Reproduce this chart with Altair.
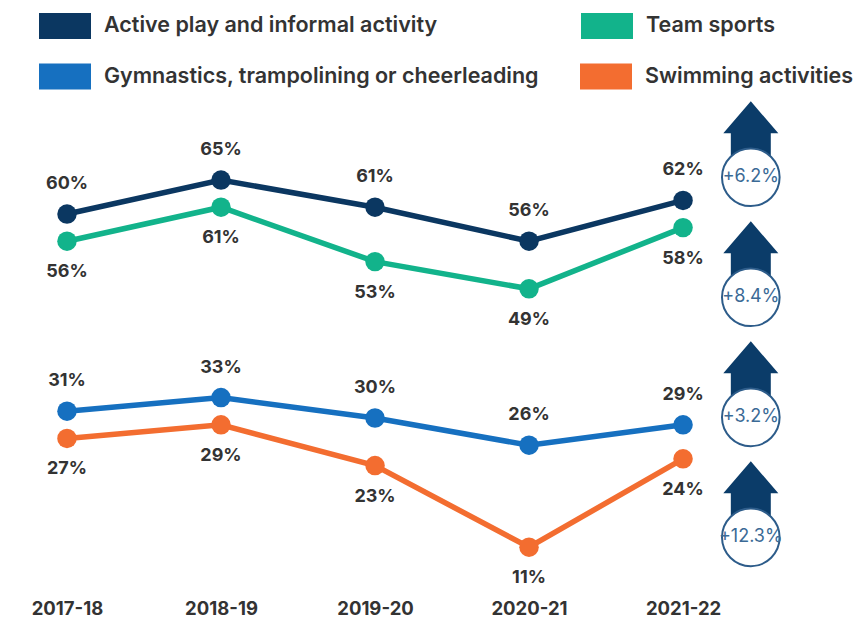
import json
import altair as alt
import pandas as pd

# ---- data ----
years = ["2017-18", "2018-19", "2019-20", "2020-21", "2021-22"]
series = [
    "Active play and informal activity",
    "Team sports",
    "Gymnastics, trampolining or cheerleading",
    "Swimming activities",
]
active = [60, 65, 61, 56, 62]
team = [56, 61, 53, 49, 58]
gym = [31, 33, 30, 26, 29]
swim = [27, 29, 23, 11, 24]
changes = ["+6.2%", "+8.4%", "+3.2%", "+12.3%"]

# ---- styling ----
colors = ["#0b3761", "#12b38b", "#1670c0", "#f36d30"]
above = [series[0], series[2]]   # series whose labels sit above the points
FONT = "Inter"
TEXT = "#333333"
NAVY = "#0b3c69"

rows = []
for name, vals in zip(series, [active, team, gym, swim]):
    for i, (yr, v) in enumerate(zip(years, vals)):
        rows.append({"series": name, "year": yr, "idx": i, "value": v,
                     "label": f"{v}%", "above": name in above})
df = pd.DataFrame(rows)

# badges sit to the right of the last year, evenly stacked
badge_x = len(years) - 1 + 0.44
badges = pd.DataFrame({
    "change": changes,
    "bx": [badge_x] * len(changes),
    "by": [65.4 - k * 17.65 for k in range(len(changes))],
})

x_scale = alt.Scale(domain=[-0.383, 5.149], nice=False, zero=False)
y_scale = alt.Scale(domain=[5, 90.3], nice=False, zero=False)

x_axis = alt.Axis(
    values=list(range(len(years))),
    labelExpr=json.dumps(years) + "[datum.value]",
    title=None, grid=False, ticks=False, tickSize=0, domain=False,
    labelFont=FONT, labelFontSize=18.5, labelFontWeight=700,
    labelColor=TEXT, labelPadding=20, labelBaseline="middle",
)


def legend_row(y, col_pad):
    return alt.Legend(
        orient="none", direction="horizontal", columns=0,
        legendX=18, legendY=y, title=None, padding=0,
        symbolType="stroke", symbolSize=2704, symbolStrokeWidth=26,
        symbolOpacity=1,
        labelFont=FONT, labelFontSize=21.5, labelFontWeight=600,
        labelColor=TEXT, labelOffset=0, labelLimit=1000,
        columnPadding=col_pad,
    )


base = alt.Chart(df).encode(
    x=alt.X("idx:Q", scale=x_scale, axis=x_axis),
    y=alt.Y("value:Q", scale=y_scale, axis=None),
)

# first legend row: series 0 and 1 ; second legend row: series 2 and 3
lines_a = base.mark_line(strokeWidth=5.5).encode(
    color=alt.Color("series:N",
                    scale=alt.Scale(domain=series[:2], range=colors[:2]),
                    legend=legend_row(-21, 91)),
).transform_filter(alt.FieldOneOfPredicate(field="series", oneOf=series[:2]))

lines_b = base.mark_line(strokeWidth=5.5).encode(
    stroke=alt.Stroke("series:N",
                      scale=alt.Scale(domain=series[2:], range=colors[2:]),
                      legend=legend_row(29.5, -12)),
).transform_filter(alt.FieldOneOfPredicate(field="series", oneOf=series[2:]))

points = base.mark_point(filled=True, size=380, opacity=1).encode(
    fill=alt.Fill("series:N", scale=alt.Scale(domain=series, range=colors),
                  legend=None),
)

label_style = dict(font=FONT, fontSize=18, fontWeight=700, color=TEXT,
                   baseline="middle")
labels_up = base.mark_text(dy=-30, **label_style).encode(text="label:N") \
    .transform_filter("datum.above")
labels_down = base.mark_text(dy=31, **label_style).encode(text="label:N") \
    .transform_filter("!datum.above")

arrow_path = ("M0,-1L0.362,-0.579L0.263,-0.579L0.263,-0.13"
              "L-0.263,-0.13L-0.263,-0.579L-0.362,-0.579Z")
bbase = alt.Chart(badges).encode(
    x=alt.X("bx:Q", scale=x_scale, axis=x_axis),
    y=alt.Y("by:Q", scale=y_scale, axis=None),
)
arrows = bbase.mark_point(shape=arrow_path, filled=True, size=23104,
                          color=NAVY, opacity=1)
circles = bbase.mark_point(shape="circle", filled=True, size=3318,
                           fill="white", stroke="#2d5c8a", strokeWidth=2,
                           opacity=1)
ctext = bbase.mark_text(font=FONT, fontSize=18, color="#3b6a96",
                        baseline="middle").encode(text="change:N")

chart = alt.layer(lines_a, lines_b, points, labels_up, labels_down,
                  arrows, circles, ctext).properties(
    width=852, height=580,
    autosize=alt.AutoSizeParams(type="none"),
    padding={"left": 0, "top": 0, "right": 0, "bottom": 31},
).configure_view(stroke=None)

chart.save("out.html", embed_options={"renderer": "svg", "actions": False})
